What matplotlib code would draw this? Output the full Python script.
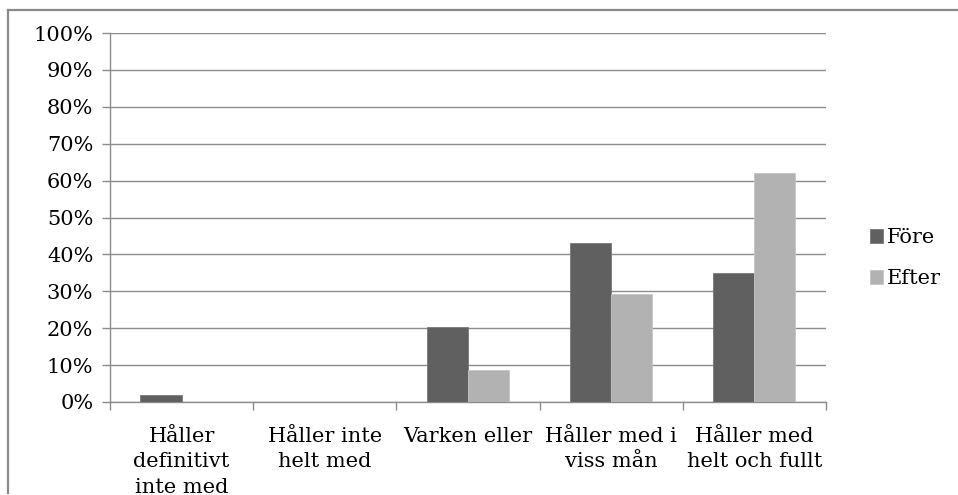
import matplotlib.pyplot as plt
import numpy as np
from matplotlib.lines import Line2D

# data
categories = ["Håller\ndefinitivt\ninte med", "Håller inte\nhelt med", "Varken eller",
              "Håller med i\nviss mån", "Håller med\nhelt och fullt"]
fore = [1.8, 0, 20.3, 43.0, 35.0]
efter = [0, 0, 8.6, 29.3, 62.0]
series_names = ["Före", "Efter"]
ytick_vals = list(range(0, 101, 10))

plt.rcParams['font.family'] = 'DejaVu Serif'

fig = plt.figure(figsize=(9.58, 4.95), dpi=100)
ax = fig.add_axes([0.1148, 0.1879, 0.7474, 0.7454])

x = np.arange(len(categories))
w = 0.287
ax.bar(x - w / 2, fore, w, color='#606060', edgecolor='#7a7a7a', linewidth=0.6, label=series_names[0], zorder=3)
ax.bar(x + w / 2, efter, w, color='#b2b2b2', edgecolor='#c4c4c4', linewidth=0.6, label=series_names[1], zorder=3)

ax.set_xlim(-0.5, len(categories) - 0.5)
ax.set_ylim(0, 100)
ax.set_yticks(ytick_vals)
ax.set_yticklabels([f"{v}%" for v in ytick_vals], fontsize=15)
ax.yaxis.grid(True, color='#8c8c8c', linewidth=1)
ax.set_axisbelow(True)

# category labels centred, ticks at the boundaries
ax.set_xticks(x)
ax.set_xticklabels(categories, fontsize=15, linespacing=1.42)
ax.tick_params(axis='x', length=0, pad=18)
ax.set_xticks(np.arange(-0.5, len(categories), 1), minor=True)
ax.tick_params(axis='x', which='minor', length=6, color='#8c8c8c', width=1)
ax.tick_params(axis='y', length=6, color='#8c8c8c', width=1, pad=6)

for s in ['top', 'right']:
    ax.spines[s].set_visible(False)
for s in ['left', 'bottom']:
    ax.spines[s].set_color('#8c8c8c')
    ax.spines[s].set_linewidth(1)

ax.legend(loc='center left', bbox_to_anchor=(1.035, 0.39), frameon=False, fontsize=15,
          handlelength=0.65, handleheight=0.65, handletextpad=0.15, labelspacing=1.05)

# outer border (left and top only visible)
fig.add_artist(Line2D([8 / 958, 8 / 958], [2 / 495, 485 / 495], color='#8a8a8a', linewidth=1.6))
fig.add_artist(Line2D([8 / 958, 1.0], [485 / 495, 485 / 495], color='#8a8a8a', linewidth=1.6))

fig.savefig("out.png", dpi=100)
